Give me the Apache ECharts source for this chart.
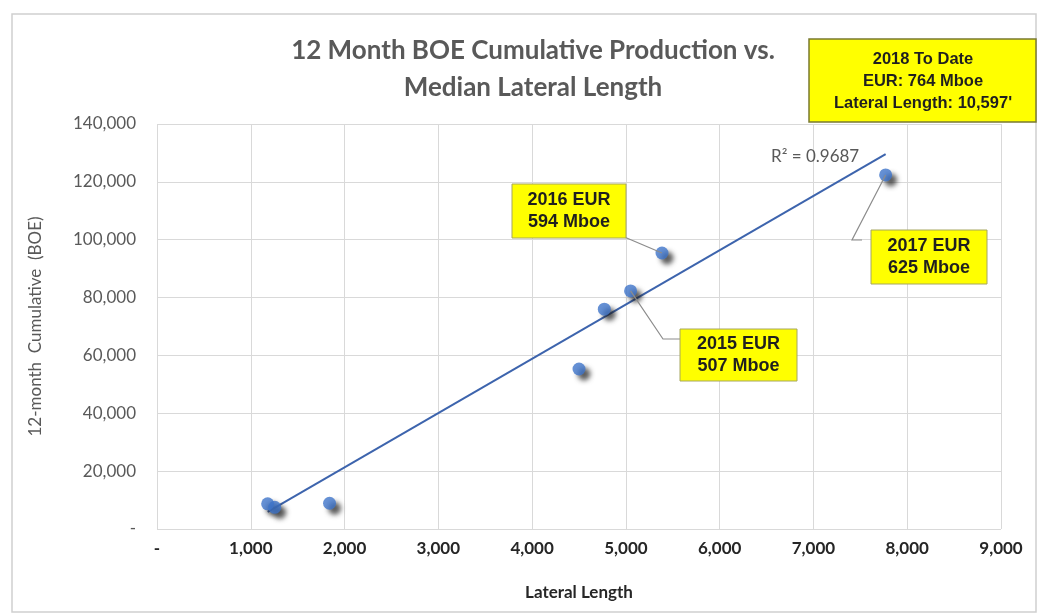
<!DOCTYPE html>
<html>
<head>
<meta charset="utf-8">
<script src="https://cdn.jsdelivr.net/npm/echarts@6/dist/echarts.min.js"></script>
<style>
  html, body { margin: 0; padding: 0; background: #fff; }
  #chart { width: 1038px; height: 614px; }
</style>
</head>
<body>
<div id="chart"></div>
<script>
// lateral length (ft) and 12-month cumulative BOE
const lateralLength = [1180, 1255, 1840, 4500, 4770, 5050, 5385, 7770];
const cumBoe = [8700, 7500, 8900, 55300, 76000, 82300, 95400, 122400];
// trendline end points as drawn
const trendX = [1180, 7770];
const trendY = [5900, 129600];
const xTicks = [0, 1000, 2000, 3000, 4000, 5000, 6000, 7000, 8000, 9000];
const yTicks = [0, 20000, 40000, 60000, 80000, 100000, 120000, 140000];

const callouts = [
  { text: '2016 EUR\n594 Mboe', idx: 6, box: [512, 184, 114, 54], path: [[622, 236]] },
  { text: '2015 EUR\n507 Mboe', idx: 5, box: [680, 329, 117, 52], path: [[663, 339], [680, 339]] },
  { text: '2017 EUR\n625 Mboe', idx: 7, box: [871, 230, 116, 54], path: [[852, 240], [862, 240]] }
];

const fmt = v => v === 0 ? '-' : v.toLocaleString('en-US');
const chart = echarts.init(document.getElementById('chart'));

chart.setOption({
  animation: false,
  title: {
    text: '12 Month BOE Cumulative Production vs.\nMedian Lateral Length',
    left: 528, top: 27, textAlign: 'center',
    textStyle: { fontFamily: 'Lato', fontSize: 26, fontWeight: 'bold', color: '#595959', lineHeight: 37 }
  },
  grid: { left: 157, right: 37, top: 124, bottom: 85 },
  xAxis: {
    type: 'value', min: 0, max: xTicks[xTicks.length - 1], interval: 1000,
    name: 'Lateral Length', nameLocation: 'middle', nameGap: 55,
    nameTextStyle: { fontFamily: 'Lato', fontSize: 17, fontWeight: 'bold', color: '#262626' },
    axisLine: { show: false }, axisTick: { show: false },
    axisLabel: { formatter: fmt, margin: 11, fontFamily: 'Lato', fontSize: 17, fontWeight: 'bold', color: '#262626' },
    splitLine: { lineStyle: { color: '#d9d9d9' } }
  },
  yAxis: {
    type: 'value', min: 0, max: yTicks[yTicks.length - 1], interval: 20000,
    name: '12-month  Cumulative  (BOE)', nameLocation: 'middle', nameGap: 113,
    nameTextStyle: { fontFamily: 'Lato', fontSize: 17, color: '#595959' },
    axisLine: { show: false }, axisTick: { show: false },
    axisLabel: { formatter: fmt, margin: 21, fontFamily: 'Lato', fontSize: 17, color: '#595959' },
    splitLine: { lineStyle: { color: '#d9d9d9' } }
  },
  series: [
    {
      type: 'line',
      data: trendX.map((x, i) => [x, trendY[i]]),
      showSymbol: false,
      lineStyle: { color: '#3d64ad', width: 2 },
      z: 2
    },
    {
      type: 'scatter',
      data: lateralLength.map((x, i) => [x, cumBoe[i]]),
      symbolSize: 13,
      itemStyle: {
        color: '#3f74c9',
        shadowColor: 'rgba(30,30,30,0.9)', shadowBlur: 5, shadowOffsetX: 5, shadowOffsetY: 5
      },
      z: 3
    }
  ]
});

function drawExtras() {
  const g = [];
  // outer frame
  g.push({ type: 'rect', shape: { x: 12, y: 14, width: 1024, height: 598 },
    style: { fill: 'none', stroke: '#d0d0d0', lineWidth: 1.5 }, z: 0 });
  // R squared text
  g.push({ type: 'text', x: 771, y: 157,
    style: { text: 'R² = 0.9687', font: '17px Lato', fill: '#595959', textVerticalAlign: 'middle' }, z: 10 });
  callouts.forEach(c => {
    const p = chart.convertToPixel({ gridIndex: 0 }, [lateralLength[c.idx], cumBoe[c.idx]]);
    const pts = [[p[0], p[1]]].concat(c.path);
    g.push({ type: 'polyline', shape: { points: pts }, style: { stroke: '#8c8c8c', lineWidth: 1.2, fill: 'none' }, z: 9 });
    const [bx, by, bw, bh] = c.box;
    g.push({ type: 'rect', shape: { x: bx, y: by, width: bw, height: bh },
      style: { fill: '#ffff00', stroke: '#a6a660', lineWidth: 1 }, z: 10 });
    g.push({ type: 'text', x: bx + bw / 2, y: by + bh / 2,
      style: { text: c.text, font: 'bold 18px "Liberation Sans"', fill: '#1f1f1f',
        textAlign: 'center', textVerticalAlign: 'middle', lineHeight: 22 }, z: 11 });
  });
  // 2018 to date box
  g.push({ type: 'rect', shape: { x: 809, y: 39, width: 227, height: 83 },
    style: { fill: '#ffff00', stroke: '#7a7a30', lineWidth: 1.5 }, z: 10 });
  g.push({ type: 'text', x: 923, y: 81,
    style: { text: '2018 To Date\nEUR: 764 Mboe\nLateral Length: 10,597\'', font: 'bold 16.5px "Liberation Sans"',
      fill: '#1f1f1f', textAlign: 'center', textVerticalAlign: 'middle', lineHeight: 22 }, z: 11 });
  chart.setOption({ graphic: g });
}
drawExtras();
</script>
</body>
</html>
